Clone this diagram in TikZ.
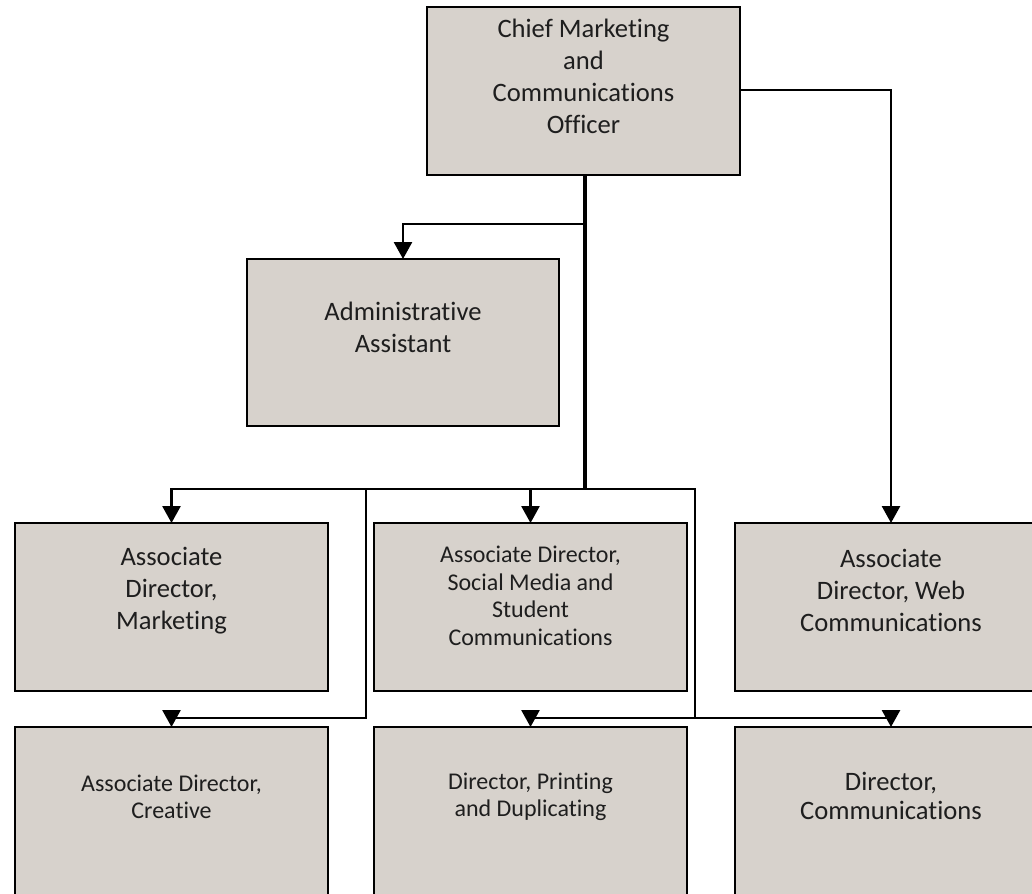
\documentclass[tikz,border=0pt]{standalone}
\usepackage{fontspec}
\setmainfont{Carlito}[Ligatures=CommonOff]
\usetikzlibrary{arrows.meta}
\definecolor{boxfill}{RGB}{215,210,204}
\definecolor{txtcol}{RGB}{30,30,30}
\tikzset{
  orgbox/.style={draw=black, line width=2.6pt, fill=boxfill, anchor=north west, inner sep=0pt, outer sep=0pt},
  bigtxt/.style={align=center, text=txtcol, font=\fontsize{26.6pt}{32pt}\selectfont, inner sep=0pt},
  smalltxt/.style={align=center, text=txtcol, font=\fontsize{24pt}{27.5pt}\selectfont, inner sep=0pt},
  conn/.style={draw=black, line width=2.7pt},
  arr/.style={conn, -{Triangle[width=18pt,length=17pt]}},
}
\begin{document}
\begin{tikzpicture}[x=1pt,y=-1pt]
\useasboundingbox (0,0) rectangle (1032,893);
\clip (0,0) rectangle (1032,893);
% boxes
\node[orgbox, minimum width=313pt, minimum height=168pt] (cmo) at (427,7) {};
\node[orgbox, minimum width=312pt, minimum height=167pt] (admin) at (247,259) {};
\node[orgbox, minimum width=313pt, minimum height=168pt] (mkt) at (15,523) {};
\node[orgbox, minimum width=313pt, minimum height=168pt] (soc) at (374,523) {};
\node[orgbox, minimum width=312pt, minimum height=168pt] (web) at (735,523) {};
\node[orgbox, minimum width=313pt, minimum height=200pt] (cre) at (15,727) {};
\node[orgbox, minimum width=313pt, minimum height=200pt] (prt) at (374,727) {};
\node[orgbox, minimum width=312pt, minimum height=200pt] (com) at (735,727) {};
% texts
\node[bigtxt] (tcmo) at (583.5,76) {Chief Marketing\\and\\Communications\\Officer};
\node[bigtxt] (tadmin) at (403,327) {Administrative\\Assistant};
\node[bigtxt] (tmkt) at (171.5,591) {Associate\\Director,\\Marketing};
\node[smalltxt] (tsoc) at (530.5,596) {Associate Director,\\Social Media and\\Student\\Communications};
\node[bigtxt] (tweb) at (891,590) {Associate\\Director, Web\\Communications};
\node[smalltxt] (tcre) at (171.5,797) {Associate Director,\\Creative};
\node[smalltxt] (tprt) at (530.5,797) {Director, Printing\\and Duplicating};
\node[bigtxt, font=\fontsize{26.6pt}{29.5pt}\selectfont] (tcom) at (891,796) {Director,\\Communications};
% connector junctions
\coordinate (hub) at (585,489);
\coordinate (admsplit) at (585,224);
\coordinate (leftsplit) at (366,489);
\coordinate (lowL) at (366,718);
\coordinate (lowR) at (695,718);
% connectors
\draw[conn, line width=3.8pt] (cmo.south -| hub) -- (hub);
\draw[arr] (admsplit) -| (admin.north);
\draw[arr] (cmo.east |- 0,90) -| (web.north);
\draw[arr] (hub) -| (mkt.north);
\draw[arr] (soc.north |- hub) -- (soc.north);
\draw[conn] (hub) -| (lowR);
\draw[arr] (lowR) -| (com.north);
\draw[arr] (lowR) -| (prt.north);
\draw[arr] (leftsplit) -- (lowL) -| (cre.north);
\end{tikzpicture}
\end{document}
